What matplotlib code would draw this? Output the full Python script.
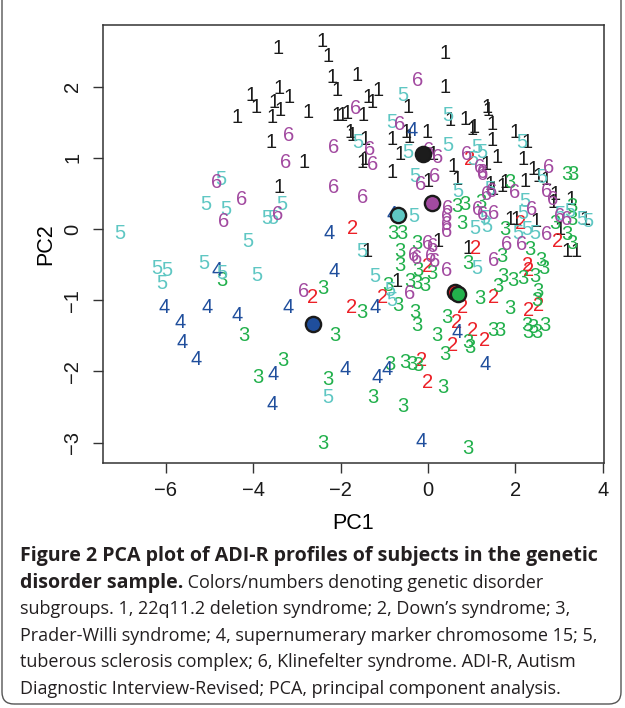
import matplotlib
matplotlib.use("Agg")
import matplotlib.pyplot as plt
from matplotlib.patches import FancyBboxPatch
from matplotlib.transforms import IdentityTransform

# group 1, 22q11.2 deletion syndrome
g1_x = [-3.43, -2.43, -2.29, -2.20, -2.08, -1.62, -3.41, -4.05, -3.94, -3.52,
		-3.39, -3.18, -3.57, -4.37, -2.75, -2.08, -1.97, -1.85, -1.78, -1.74,
		-3.59, -2.84, -3.41, 0.39, 0.39, -0.46, -1.37, -1.28, -1.14, -1.49,
		-0.50, -0.43, -0.02, 0.50, 0.85, 1.01, 1.05, 1.35, 1.37, 1.46,
		1.99, 2.27, 1.46, -1.44, -0.82, -0.64, 0.11, 1.33, 1.58, 2.17,
		0.57, 0.66, -0.82, -1.51, -1.44, 0.00, 1.42, 1.49, 1.69, 1.76,
		2.22, 2.40, 2.52, 2.70, 2.91, 3.27, 2.86, 1.88, 2.01, 2.47,
		3.59, 3.02, 3.18, 3.39, 0.92, -1.40, -0.71, 0.23]
g1_y = [2.54, 2.63, 2.42, 2.13, 1.95, 2.15, 1.98, 1.87, 1.70, 1.78,
		1.66, 1.84, 1.57, 1.56, 1.63, 1.59, 1.59, 1.62, 1.36, 1.31,
		1.21, 0.94, 0.58, 2.47, 1.99, 1.70, 1.84, 1.78, 1.95, 1.59,
		1.36, 1.29, 1.36, 1.52, 1.54, 1.40, 1.42, 1.70, 1.66, 1.47,
		1.35, 1.21, 1.24, 1.26, 1.26, 1.04, 1.04, 0.91, 1.00, 0.98,
		0.88, 0.70, 0.79, 0.94, 0.97, 0.66, 0.62, 0.55, 0.59, 0.65,
		0.66, 0.84, 0.74, 0.69, 0.49, 0.42, 0.37, 0.13, 0.13, 0.11,
		0.13, -0.01, -0.31, -0.31, -0.28, -0.32, -0.74, -0.17]

# group 2, Down's syndrome
g2_x = [-1.72, -1.74, -2.65, -1.03, 0.00, 1.08, 0.96, 2.27, 2.29, 2.52,
		2.29, 1.49, 0.80, 1.01, 1.30, 0.66, 0.57, -0.14, -0.02, 2.11, 2.97]
g2_y = [0.01, -1.10, -0.96, -0.96, -0.53, -0.27, 0.97, -0.51, -0.59, -1.07,
		-1.14, -0.96, -1.10, -1.42, -1.56, -1.32, -1.63, -1.85, -2.15, 0.08, -0.18]

# group 3, Prader-Willi syndrome
g3_x = [-4.71, -4.21, -2.40, -2.13, -3.32, -3.89, -2.29, -2.40, -1.51, -0.80,
		-0.59, -0.64, -0.25, -0.64, -0.23, 0.09, -0.92, -0.41, -0.25, -0.07,
		-0.69, -0.30, -0.25, 0.21, 0.43, 0.66, 0.85, 0.78, 1.21, 1.88,
		3.18, 3.32, 3.30, 2.91, 3.30, 3.18, 3.30, 1.76, 2.33, 0.92,
		1.69, 2.59, 2.65, 2.17, 2.45, 1.95, 1.72, 1.60, 2.52, 2.49,
		1.19, 1.88, 0.92, 0.96, 1.49, 1.65, 2.27, 2.29, 2.40, 2.49,
		2.68, 0.39, -0.87, -0.53, -0.37, -0.23, 0.34, -1.26, -0.57, 0.92]
g3_y = [-0.72, -1.49, -0.83, -1.49, -1.85, -2.09, -2.11, -3.01, -1.17, -0.06,
		-0.06, -0.32, -0.20, -0.52, -0.58, -0.63, -0.79, -0.74, -0.77, -0.79,
		-1.08, -1.17, -1.36, -1.50, -1.25, 0.31, 0.35, 0.08, 0.37, 0.65,
		0.77, 0.76, 0.31, 0.08, 0.13, -0.08, -0.20, -0.01, -0.29, -0.48,
		-0.38, -0.44, -0.55, -0.69, -0.67, -0.72, -0.67, -0.81, -0.88, -1.00,
		-0.97, -1.11, -1.59, -1.66, -1.42, -1.42, -1.35, -1.46, -1.38, -1.45,
		-1.35, -1.77, -1.90, -1.87, -1.90, -1.92, -2.23, -2.37, -2.50, -3.08]

# group 4, supernumerary marker chromosome 15
g4_x = [-0.37, -2.27, -2.15, -4.83, -6.04, -5.06, -4.37, -3.20, -5.68, -5.63,
		-5.31, -3.55, -3.57, -1.90, -1.17, -0.94, -1.21, 0.66, 1.30, -0.16, -0.82]
g4_y = [1.39, -0.07, -0.60, -0.58, -1.10, -1.10, -1.21, -1.10, -1.31, -1.60,
		-1.83, -2.05, -2.47, -1.98, -2.08, -1.98, -1.10, -1.45, -1.91, -2.99, 0.20]

# group 5, tuberous sclerosis complex
g5_x = [-7.05, -6.20, -5.97, -6.09, -5.13, -4.71, -3.91, -4.12, -4.74, -5.08,
		-4.62, -3.68, -3.55, -3.34, -2.29, -1.60, -0.57, -0.82, 0.46, -0.46,
		0.46, 1.12, 1.24, 1.03, 2.15, -0.30, 0.69, -0.32, 2.61, 2.22,
		2.17, 1.30, 1.42, 3.02, 3.25, 3.52, 2.27, 2.45, 2.06, 1.35,
		1.08, 1.12, -1.51, -1.21, -0.87, -0.82, 3.66]
g5_y = [-0.06, -0.55, -0.58, -0.76, -0.48, -0.62, -0.65, -0.18, 0.69, 0.34,
		0.27, 0.15, 0.15, 0.34, -2.36, 1.21, 1.87, 1.50, 1.60, 1.08,
		1.17, 1.14, 1.08, 0.97, 1.21, 0.74, 0.52, 0.17, 0.73, 0.39,
		0.22, 0.15, 0.55, 0.20, 0.24, 0.13, -0.01, -0.06, -0.06, 0.04,
		0.01, -0.55, -0.32, -0.67, -0.87, -1.00, 0.10]

# group 6, Klinefelter syndrome
g6_x = [-4.83, -4.26, -4.67, -3.43, -3.18, -3.25, -2.15, -2.15, -1.65, -0.23,
		-0.64, -1.33, -1.26, -1.49, -2.84, 0.02, 0.21, 0.89, -0.18, 0.14,
		1.26, 1.19, 1.24, 2.75, 2.72, 2.86, 1.35, 1.46, 1.99, 2.38,
		1.49, 1.14, 1.24, 0.46, 0.43, 0.43, 0.43, 3.02, 3.18, 2.72,
		1.81, 2.15, 1.49, -0.02, 0.11, -0.34, -0.27, 0.05, 0.16, 0.43, -0.41]
g6_y = [0.65, 0.41, 0.10, 0.21, 1.31, 0.94, 1.14, 0.58, 1.69, 2.08,
		1.47, 1.12, 0.91, 0.44, -0.88, 1.10, 1.01, 1.04, 0.62, 0.74,
		0.80, 0.87, 0.76, 0.87, 0.52, 0.41, 0.49, 0.52, 0.51, 0.27,
		0.22, 0.27, 0.20, 0.29, 0.17, 0.06, -0.04, 0.17, 0.13, -0.08,
		-0.22, -0.22, -0.44, -0.21, -0.25, -0.37, -0.42, -0.38, -0.45, -0.58, -0.90]

# group centroids (big dots), order: 1, 5, 6, 4, 2, 3
cent_x = [-0.11, -0.69, 0.09, -2.63, 0.62, 0.69]
cent_y = [1.05, 0.20, 0.37, -1.33, -0.88, -0.91]
cent_group = [1, 5, 6, 4, 2, 3]

group_colors = {1: "#1c1c1c", 2: "#ec2027", 3: "#22b04c", 4: "#1f4e9c",
				5: "#5fc7c3", 6: "#a24aa0"}

x_ticks = [-6, -4, -2, 0, 2, 4]
y_ticks = [-3, -2, -1, 0, 1, 2]

caption_bold_1 = "Figure 2 PCA plot of ADI-R profiles of subjects in the genetic"
caption_bold_2 = "disorder sample."
caption_rest = [" Colors/numbers denoting genetic disorder",
				"subgroups. 1, 22q11.2 deletion syndrome; 2, Down\u2019s syndrome; 3,",
				"Prader-Willi syndrome; 4, supernumerary marker chromosome 15; 5,",
				"tuberous sclerosis complex; 6, Klinefelter syndrome. ADI-R, Autism",
				"Diagnostic Interview-Revised; PCA, principal component analysis."]


def draw_points(ax):
	"""Draw every subject as its group number"""
	groups = [(1, g1_x, g1_y), (2, g2_x, g2_y), (3, g3_x, g3_y),
			  (4, g4_x, g4_y), (5, g5_x, g5_y), (6, g6_x, g6_y)]
	for g, xs, ys in groups:
		for x, y in zip(xs, ys):
			ax.text(x, y, str(g), color=group_colors[g], fontsize=14.5,
					family="Liberation Sans", ha="center", va="center")
	for x, y, g in zip(cent_x, cent_y, cent_group):
		ax.scatter(x, y, s=120, color=group_colors[g], edgecolor="#1a1a1a",
				   linewidth=1.7, zorder=5)


def draw_caption(fig):
	renderer = fig.canvas.get_renderer()
	x0 = 20 / 625
	line_h = 26.6 / 708
	y = 1 - 556 / 708
	kw = dict(family="Open Sans", va="center", color="#231f20")
	fig.text(x0, y, caption_bold_1, fontweight="bold", fontsize=14.1, **kw)
	y -= line_h
	t = fig.text(x0, y, caption_bold_2, fontweight="bold", fontsize=14.1, **kw)
	ext = t.get_window_extent(renderer)
	fig.text(ext.x1 / fig.bbox.width, y, caption_rest[0], fontsize=13.0, **kw)
	for line in caption_rest[1:]:
		y -= line_h
		fig.text(x0, y, line, fontsize=13.0, **kw)
	frame = FancyBboxPatch((2, 4), 619, 760, boxstyle="round,pad=0,rounding_size=12",
						   transform=IdentityTransform(), facecolor="none",
						   edgecolor="#555555", linewidth=1.0)
	fig.patches.append(frame)


def main():
	fig = plt.figure(figsize=(6.25, 7.08), dpi=100)
	ax = fig.add_axes([103 / 625, 1 - 463 / 708, 501 / 625, 438 / 708])
	draw_points(ax)
	ax.set_xlim(-7.437, 4.027)
	ax.set_ylim(-3.287, 2.865)
	ax.set_xticks(x_ticks)
	ax.set_yticks(y_ticks)
	ax.set_xticklabels([f"{v:d}".replace("-", "\u2212") for v in x_ticks])
	ax.set_yticklabels([f"{v:d}".replace("-", "\u2212") for v in y_ticks],
					   rotation=90, va="center")
	for lab in ax.get_xticklabels() + ax.get_yticklabels():
		lab.set_family("Liberation Sans")
		lab.set_fontsize(14.5)
	ax.tick_params(axis="both", length=7, width=1.0, color="#333333", labelcolor="#1a1a1a")
	ax.tick_params(axis="x", pad=6)
	ax.tick_params(axis="y", pad=8)
	for s in ax.spines.values():
		s.set_linewidth(1.1)
		s.set_color("#333333")
	ax.set_xlabel("PC1", family="Liberation Sans", fontsize=15.5, labelpad=9)
	ax.set_ylabel("PC2", family="Liberation Sans", fontsize=15.5, labelpad=5)
	draw_caption(fig)
	fig.savefig("out.png", dpi=100)


if __name__ == "__main__":
	main()
